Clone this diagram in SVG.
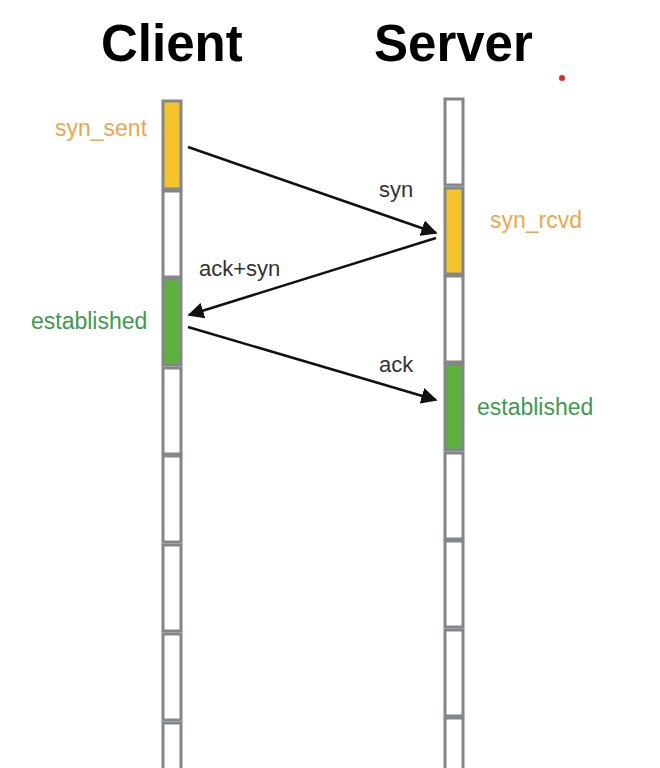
<svg xmlns="http://www.w3.org/2000/svg" width="660" height="768" viewBox="0 0 660 768">
<style>
.seg{fill:#fff;stroke:#83868b;stroke-width:3}
.y{fill:#f4c52a}
.g{fill:#5db13d}
.title{font-family:"Liberation Sans",Arial,sans-serif;font-weight:bold;font-size:51px;fill:#000}
.lbl{font-family:"Liberation Sans",Arial,sans-serif;font-size:22px;fill:#333}
.st{font-family:"Liberation Sans",Arial,sans-serif;font-size:23px}
.or{fill:#eda64b}
.gr{fill:#3e9b4d}
.conn{stroke:#111;stroke-width:2.5;fill:none;marker-end:url(#ah)}
</style>
<defs>
<marker id="ah" viewBox="0 0 10 10" refX="9" refY="5" markerWidth="6.5" markerHeight="6.5" orient="auto" markerUnits="strokeWidth">
<path d="M0,0 L10,5 L0,10 z" fill="#111"/>
</marker>
</defs>
<rect width="660" height="768" fill="#fff"/>
<g id="client-title"><text class="title" x="101" y="61">Client</text></g>
<g id="server-title"><text class="title" x="374" y="61">Server</text></g>
<g id="client-bar">
<rect class="seg y" x="163" y="101" width="18" height="88"/>
<rect class="seg" x="163" y="191" width="18" height="86"/>
<rect class="seg g" x="163" y="279" width="18" height="86"/>
<rect class="seg" x="163" y="368" width="18" height="86"/>
<rect class="seg" x="163" y="456" width="18" height="86"/>
<rect class="seg" x="163" y="545" width="18" height="86"/>
<rect class="seg" x="163" y="634" width="18" height="86"/>
<rect class="seg" x="163" y="723" width="18" height="60"/>
</g>
<g id="server-bar">
<rect class="seg" x="445" y="99" width="18" height="86"/>
<rect class="seg y" x="445" y="188" width="18" height="86"/>
<rect class="seg" x="445" y="276" width="18" height="86"/>
<rect class="seg g" x="445" y="364" width="18" height="86"/>
<rect class="seg" x="445" y="453" width="18" height="86"/>
<rect class="seg" x="445" y="541" width="18" height="86"/>
<rect class="seg" x="445" y="630" width="18" height="86"/>
<rect class="seg" x="445" y="718" width="18" height="60"/>
</g>
<g id="state-labels">
<text class="st or" x="55" y="136">syn_sent</text>
<text class="st or" x="490" y="228">syn_rcvd</text>
<text class="st gr" x="31" y="329">established</text>
<text class="st gr" x="477" y="415">established</text>
</g>
<g id="connectors">
<line class="conn" x1="188" y1="147" x2="436" y2="233"/>
<line class="conn" x1="436" y1="238" x2="189" y2="315"/>
<line class="conn" x1="188" y1="327" x2="436" y2="400"/>
</g>
<g id="connector-labels">
<text class="lbl" x="379" y="197">syn</text>
<text class="lbl" x="199" y="276">ack+syn</text>
<text class="lbl" x="379" y="372">ack</text>
</g>
<circle cx="562" cy="78" r="3" fill="#e8262b"/>
</svg>
